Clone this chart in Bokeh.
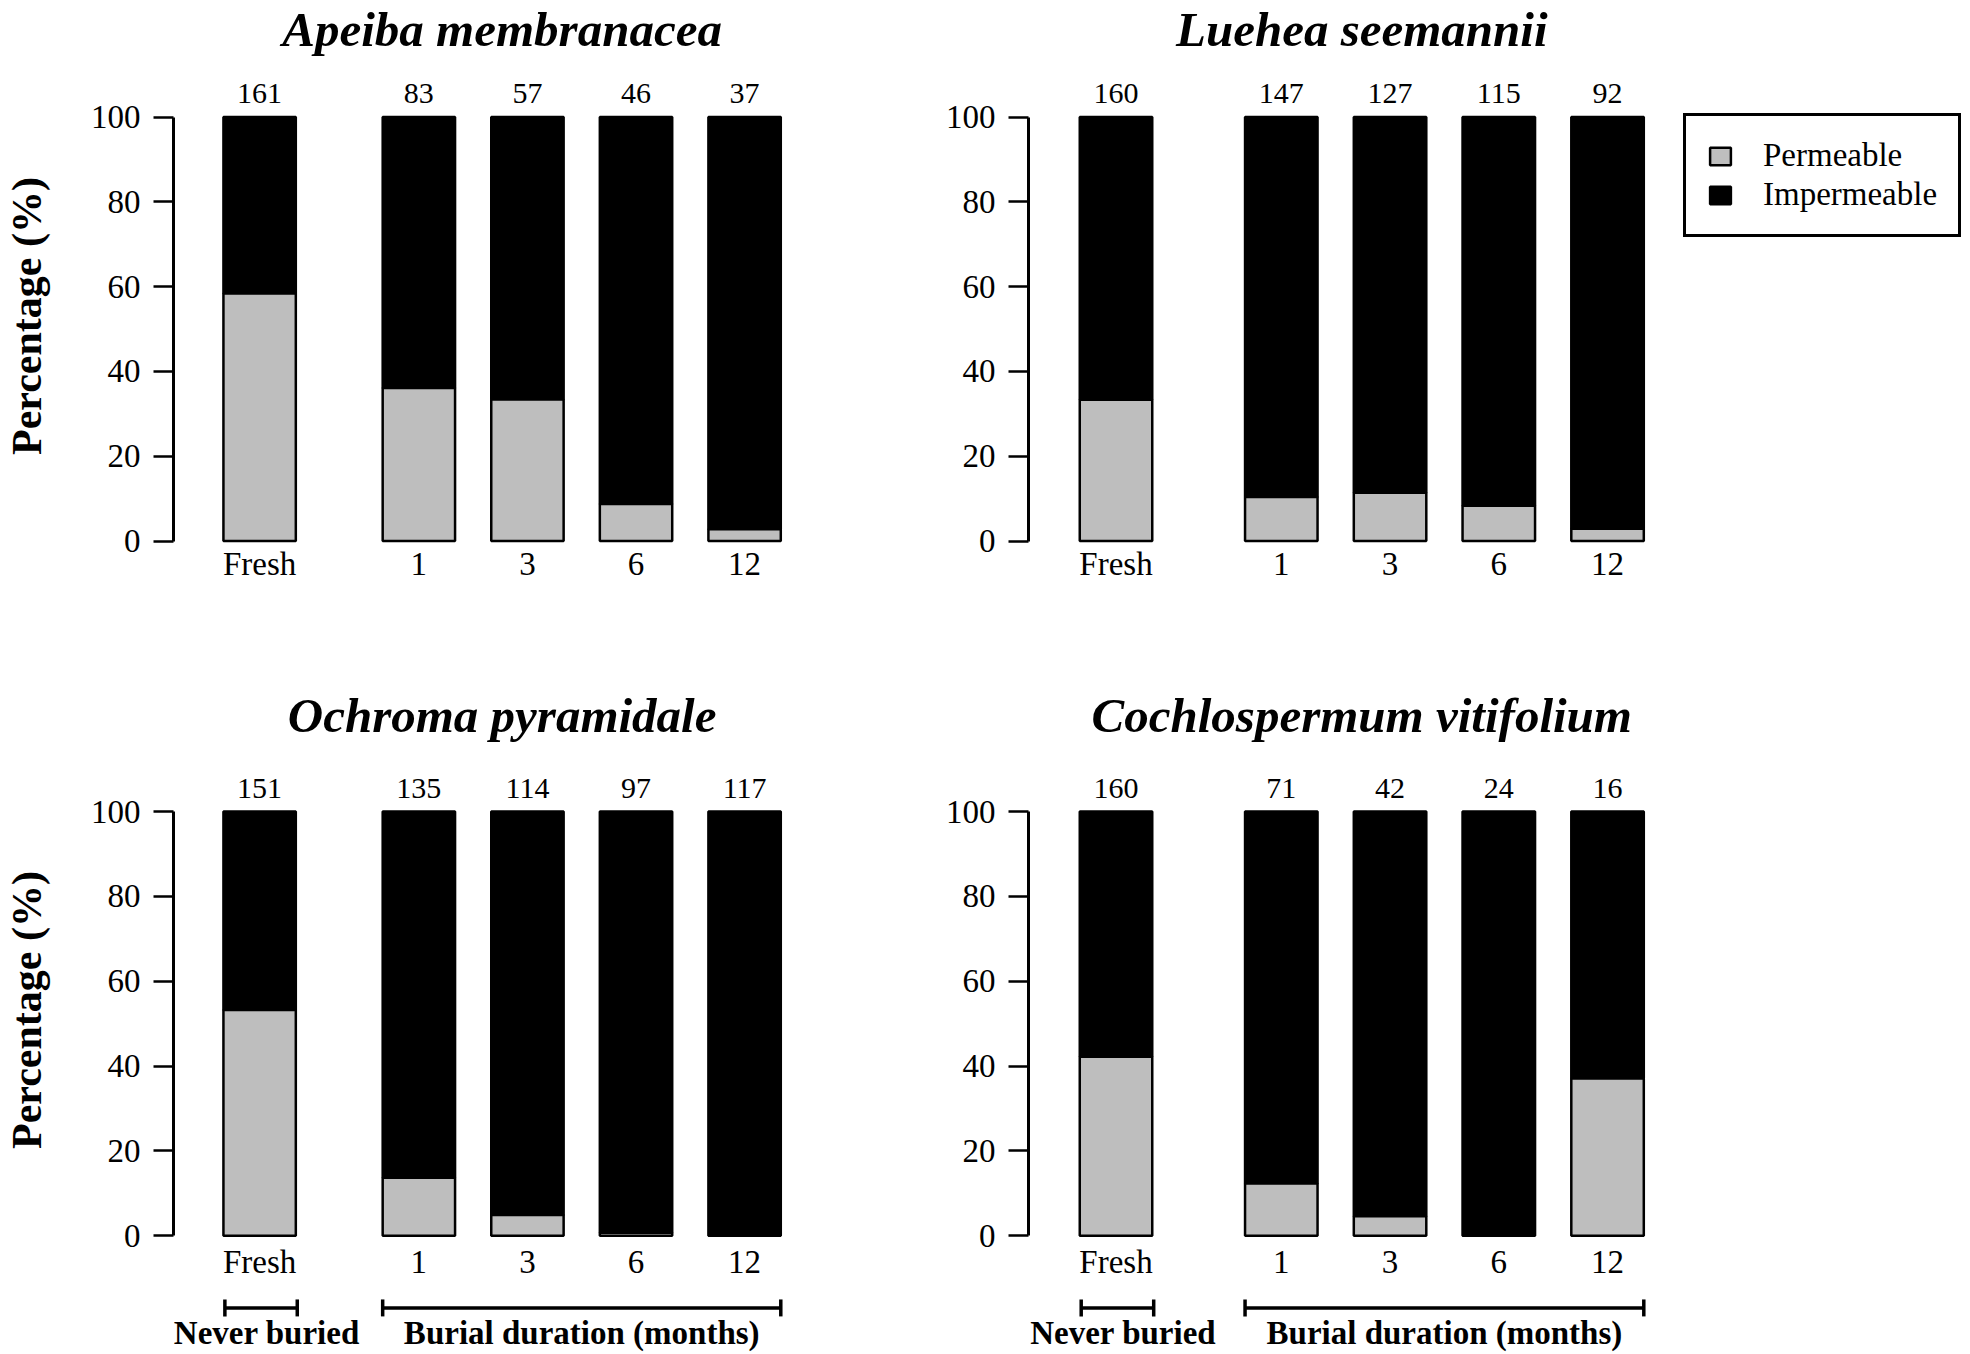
from bokeh.plotting import figure
from bokeh.models import ColumnDataSource, Range1d, FixedTicker, Legend, LegendItem
from bokeh.layouts import column, row
from bokeh.embed import file_html
from bokeh.resources import INLINE
from bokeh.core.properties import value

# ---------------- data ----------------
categories = ["Fresh", "1", "3", "6", "12"]
species = ["Apeiba membranacea", "Luehea seemannii",
           "Ochroma pyramidale", "Cochlospermum vitifolium"]

apeiba_n = [161, 83, 57, 46, 37]
apeiba_permeable = [58.4, 36.1, 33.4, 8.7, 2.8]

luehea_n = [160, 147, 127, 115, 92]
luehea_permeable = [33.3, 10.4, 11.4, 8.3, 2.9]

ochroma_n = [151, 135, 114, 97, 117]
ochroma_permeable = [53.2, 13.7, 4.9, 0.7, 0.0]

cochlo_n = [160, 71, 42, 24, 16]
cochlo_permeable = [42.2, 12.3, 4.6, 0.0, 37.1]

group_labels = ["Never buried", "Burial duration (months)"]
legend_labels = ["Permeable", "Impermeable"]
y_ticks = [0, 20, 40, 60, 80, 100]

# ---------------- style ----------------
SERIF = "Liberation Serif"
GRAY = "#BEBEBE"
BLACK = "#000000"


def make_panel(title, counts, permeable, *, width, height, border_left,
               border_bottom, frame_left_scr, fresh_center_scr, px_per_unit,
               gap, y0_scr, y100_scr, frame_top_scr, title_y, count_y,
               label_y, show_ylabel=False, show_groups=False, legend_loc=None):
    frame_w = width - border_left
    frame_h = height - border_bottom
    frame_bot_scr = frame_top_scr + frame_h

    # x positions of bars (layout slots)
    xs = [0.0] + [gap + 1.5 * i for i in range(4)]
    x_start = -(fresh_center_scr - frame_left_scr) / px_per_unit
    x_end = x_start + frame_w / px_per_unit

    k = (y0_scr - y100_scr) / 100.0
    y_start = (y0_scr - frame_bot_scr) / k
    y_end = (y0_scr - frame_top_scr) / k

    p = figure(width=width, height=height, title=None,
               x_range=Range1d(x_start, x_end), y_range=Range1d(y_start, y_end),
               output_backend="svg", toolbar_location=None, tools="",
               min_border_left=border_left, min_border_right=0,
               min_border_top=0, min_border_bottom=border_bottom)
    p.xaxis.visible = False
    p.xgrid.visible = False
    p.ygrid.visible = False
    p.outline_line_color = None
    p.background_fill_color = "white"
    p.border_fill_color = "white"

    src = ColumnDataSource(dict(
        x=xs,
        perm=permeable,
        full=[100] * len(xs),
        n=[str(v) for v in counts],
        cat=categories,
    ))

    r_imp = p.vbar(x="x", width=1.0, bottom="perm", top="full", source=src,
                   fill_color=BLACK, line_color=BLACK, line_width=2.5)
    r_perm = p.vbar(x="x", width=1.0, bottom=0, top="perm", source=src,
                    fill_color=GRAY, line_color=BLACK, line_width=2.5)

    p.text(x="x", y=count_y, text="n", source=src,
           text_font=value(SERIF), text_font_size="30px",
           text_align="center", text_baseline="middle", text_color=BLACK)
    p.text(x="x", y=label_y, text="cat", source=src,
           text_font=value(SERIF), text_font_size="33px",
           text_align="center", text_baseline="middle", text_color=BLACK)

    title_x = (xs[0] - 0.5 + xs[-1] + 0.5) / 2.0
    p.text(x=[title_x], y=[title_y], text=[title],
           text_font=value(SERIF), text_font_size="49px",
           text_font_style="bold italic",
           text_align="center", text_baseline="middle", text_color=BLACK)

    if show_groups:
        by = -17.0
        tick = 2.0
        spans = [(xs[0] - 0.48, xs[0] + 0.52), (xs[1] - 0.5, xs[-1] + 0.5)]
        x0s = [s[0] for s in spans] + [s[0] for s in spans] + [s[1] for s in spans]
        x1s = [s[1] for s in spans] + [s[0] for s in spans] + [s[1] for s in spans]
        y0s = [by, by] + [by - tick] * 4
        y1s = [by, by] + [by + tick] * 4
        p.segment(x0=x0s, y0=y0s, x1=x1s, y1=y1s, line_color=BLACK,
                  line_width=3.5)
        p.text(x=[(s[0] + s[1]) / 2.0 + 0.08 * (i == 0) for i, s in enumerate(spans)],
               y=[-22.8, -22.8], text=group_labels,
               text_font=value(SERIF), text_font_size="33px",
               text_font_style="bold", text_align="center",
               text_baseline="middle", text_color=BLACK)

    ax = p.yaxis[0]
    ax.ticker = FixedTicker(ticks=y_ticks)
    ax.bounds = (0, 100)
    ax.axis_line_width = 3
    ax.axis_line_color = BLACK
    ax.major_tick_line_width = 2.5
    ax.major_tick_line_color = BLACK
    ax.major_tick_out = 20
    ax.major_tick_in = 0
    ax.minor_tick_line_color = None
    ax.major_label_text_font = SERIF
    ax.major_label_text_font_size = "33px"
    ax.major_label_text_color = BLACK
    ax.major_label_standoff = 13
    if show_ylabel:
        ax.axis_label = "Percentage (%)"
        ax.axis_label_text_font = SERIF
        ax.axis_label_text_font_size = "42px"
        ax.axis_label_text_font_style = "bold"
        ax.axis_label_text_color = BLACK
        ax.axis_label_standoff = 38

    if legend_loc is not None:
        legend = Legend(items=[LegendItem(label=legend_labels[0], renderers=[r_perm]),
                               LegendItem(label=legend_labels[1], renderers=[r_imp])],
                        location=legend_loc)
        legend.label_text_font = SERIF
        legend.label_text_font_size = "33px"
        legend.label_text_color = BLACK
        legend.glyph_width = 26
        legend.glyph_height = 22
        legend.label_standoff = 30
        legend.padding = 21
        legend.spacing = 2
        legend.margin = 0
        legend.border_line_color = BLACK
        legend.border_line_alpha = 1.0
        legend.border_line_width = 3.5
        legend.background_fill_color = "white"
        legend.background_fill_alpha = 1.0
        p.add_layout(legend)
    return p


LEFT_W = 860
RIGHT_W = 1970 - LEFT_W
TOP_H = 667
TOP_BORDER = 36
BOT_H = 685

left_common = dict(width=LEFT_W, border_left=170, frame_left_scr=170,
                   fresh_center_scr=256.5, px_per_unit=72.7, gap=2.2,
                   show_ylabel=True)
right_common = dict(width=RIGHT_W, border_left=1028 - LEFT_W, frame_left_scr=1028,
                    fresh_center_scr=1115.5, px_per_unit=72.5, gap=2.28)
top_common = dict(height=TOP_H, border_bottom=TOP_BORDER, frame_top_scr=0,
                  y0_scr=540.5, y100_scr=116.5, title_y=120.6, count_y=105.5,
                  label_y=-5.5)
bot_common = dict(height=BOT_H, border_bottom=0, frame_top_scr=TOP_H,
                  y0_scr=1235.3, y100_scr=811.0, title_y=122.6, count_y=105.4,
                  label_y=-6.1, show_groups=True)

p1 = make_panel(species[0], apeiba_n, apeiba_permeable, **left_common, **top_common)
p2 = make_panel(species[1], luehea_n, luehea_permeable, **right_common, **top_common,
                legend_loc=(1683 - 1028, (TOP_H - TOP_BORDER) - 237))
p3 = make_panel(species[2], ochroma_n, ochroma_permeable, **left_common, **bot_common)
p4 = make_panel(species[3], cochlo_n, cochlo_permeable, **right_common, **bot_common)

layout = column(row(p1, p2), row(p3, p4))

open("out.html", "w").write(file_html(layout, INLINE))
